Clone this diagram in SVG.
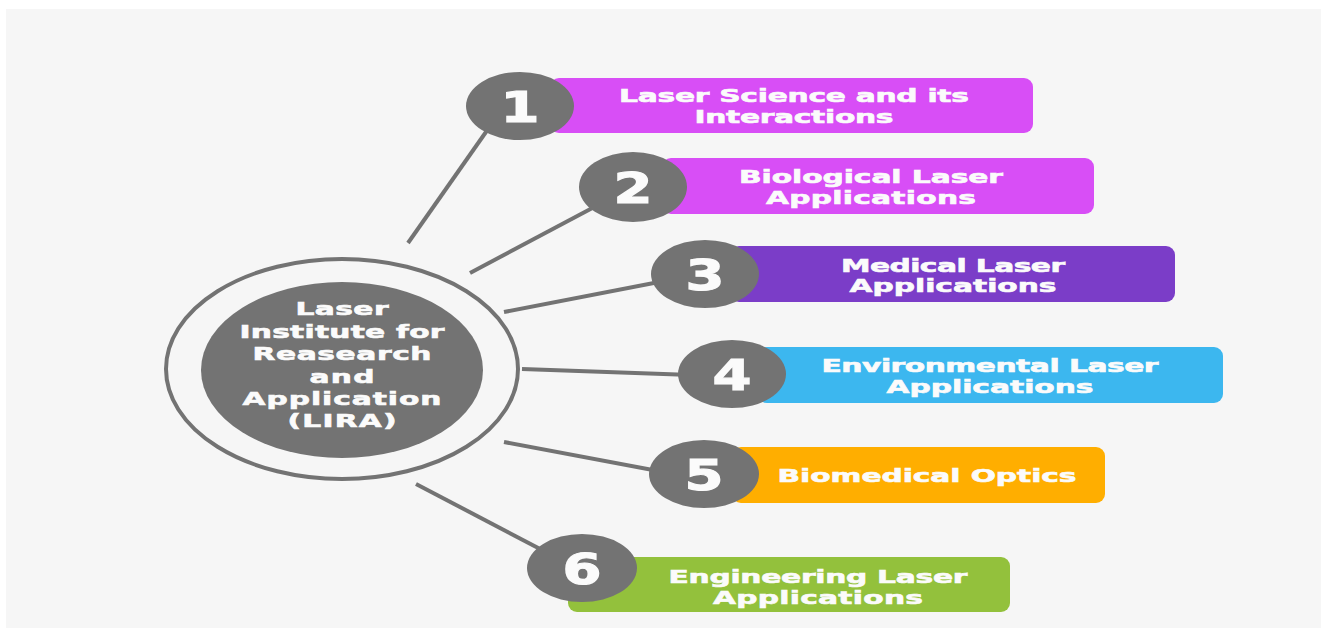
<svg xmlns="http://www.w3.org/2000/svg" width="1321" height="628" viewBox="0 0 1321 628">
<style>
.t{font-family:"DejaVu Sans","Liberation Sans",sans-serif;font-weight:700;fill:#fbfbfb;stroke:#fbfbfb;stroke-width:0.6;text-anchor:middle}
.bt{font-size:18px}
.ct{font-size:18px}
.num{font-size:43px;stroke-width:1.2}
.dot{fill:#737373}
.con{stroke:#737373;stroke-width:4;fill:none}
</style>
<rect x="0" y="0" width="1321" height="628" fill="#ffffff"/>
<rect x="6" y="9" width="1315" height="619" fill="#f6f6f6"/>
<g id="connectors">
<line class="con" x1="408" y1="243" x2="500" y2="112"/>
<line class="con" x1="470" y1="273" x2="615" y2="196"/>
<line class="con" x1="504" y1="312" x2="690" y2="276"/>
<line class="con" x1="522" y1="369" x2="720" y2="376"/>
<line class="con" x1="504" y1="442" x2="690" y2="477"/>
<line class="con" x1="416" y1="484" x2="565" y2="562"/>
</g>
<g id="center">
<ellipse cx="342" cy="369" rx="176" ry="110" fill="none" stroke="#737373" stroke-width="4"/>
<ellipse cx="342" cy="370" rx="141" ry="88" class="dot"/>
<text class="t ct" transform="translate(342 315) scale(1.65 1)" textLength="56.4" lengthAdjust="spacing">Laser</text>
<text class="t ct" transform="translate(342 338) scale(1.65 1)" textLength="124.2" lengthAdjust="spacing">Institute for</text>
<text class="t ct" transform="translate(342 360) scale(1.65 1)" textLength="108.5" lengthAdjust="spacing">Reasearch</text>
<text class="t ct" transform="translate(342 383) scale(1.65 1)" textLength="39.4" lengthAdjust="spacing">and</text>
<text class="t ct" transform="translate(342 405) scale(1.65 1)" textLength="120.6" lengthAdjust="spacing">Application</text>
<text class="t ct" transform="translate(342 427) scale(1.65 1)" textLength="66.1" lengthAdjust="spacing">(LIRA)</text>
</g>
<g id="node1">
<rect x="550" y="78" width="483" height="55" rx="9" fill="#d84ef6"/>
<ellipse cx="520" cy="106" rx="54" ry="34" class="dot"/>
<text class="t num" transform="translate(520 122) scale(1.3 1)" textLength="30" lengthAdjust="spacingAndGlyphs">1</text>
<text class="t bt" transform="translate(794 102) scale(1.65 1)" textLength="212.1" lengthAdjust="spacing">Laser Science and its</text>
<text class="t bt" transform="translate(794 123) scale(1.65 1)" textLength="120.6" lengthAdjust="spacing">Interactions</text>
</g>
<g id="node2">
<rect x="662" y="158" width="432" height="56" rx="9" fill="#d84ef6"/>
<ellipse cx="633" cy="187" rx="54" ry="35" class="dot"/>
<text class="t num" transform="translate(633 203) scale(1.3 1)" textLength="30" lengthAdjust="spacingAndGlyphs">2</text>
<text class="t bt" transform="translate(871 183) scale(1.65 1)" textLength="160" lengthAdjust="spacing">Biological Laser</text>
<text class="t bt" transform="translate(871 204) scale(1.65 1)" textLength="127.3" lengthAdjust="spacing">Applications</text>
</g>
<g id="node3">
<rect x="730" y="246" width="445" height="56" rx="9" fill="#7b3dc8"/>
<ellipse cx="705" cy="274" rx="54" ry="34" class="dot"/>
<text class="t num" transform="translate(705 290) scale(1.3 1)" textLength="30" lengthAdjust="spacingAndGlyphs">3</text>
<text class="t bt" transform="translate(953 272) scale(1.65 1)" textLength="135.8" lengthAdjust="spacing">Medical Laser</text>
<text class="t bt" transform="translate(953 292) scale(1.65 1)" textLength="125.5" lengthAdjust="spacing">Applications</text>
</g>
<g id="node4">
<rect x="758" y="347" width="465" height="56" rx="9" fill="#3cb7ef"/>
<ellipse cx="732" cy="374" rx="54" ry="34" class="dot"/>
<text class="t num" transform="translate(732 390) scale(1.3 1)" textLength="30" lengthAdjust="spacingAndGlyphs">4</text>
<text class="t bt" transform="translate(990 372) scale(1.65 1)" textLength="204.2" lengthAdjust="spacing">Environmental Laser</text>
<text class="t bt" transform="translate(990 393) scale(1.65 1)" textLength="125.5" lengthAdjust="spacing">Applications</text>
</g>
<g id="node5">
<rect x="732" y="447" width="373" height="56" rx="9" fill="#ffae00"/>
<ellipse cx="704" cy="474" rx="55" ry="34" class="dot"/>
<text class="t num" transform="translate(704 490) scale(1.3 1)" textLength="30" lengthAdjust="spacingAndGlyphs">5</text>
<text class="t bt" transform="translate(927 482) scale(1.65 1)" textLength="181.2" lengthAdjust="spacing">Biomedical Optics</text>
</g>
<g id="node6">
<rect x="568" y="557" width="442" height="55" rx="9" fill="#93c13c"/>
<ellipse cx="582" cy="568" rx="55" ry="34" class="dot"/>
<text class="t num" transform="translate(582 584) scale(1.3 1)" textLength="30" lengthAdjust="spacingAndGlyphs">6</text>
<text class="t bt" transform="translate(818 583) scale(1.65 1)" textLength="181.2" lengthAdjust="spacing">Engineering Laser</text>
<text class="t bt" transform="translate(818 604) scale(1.65 1)" textLength="127.3" lengthAdjust="spacing">Applications</text>
</g>
</svg>
